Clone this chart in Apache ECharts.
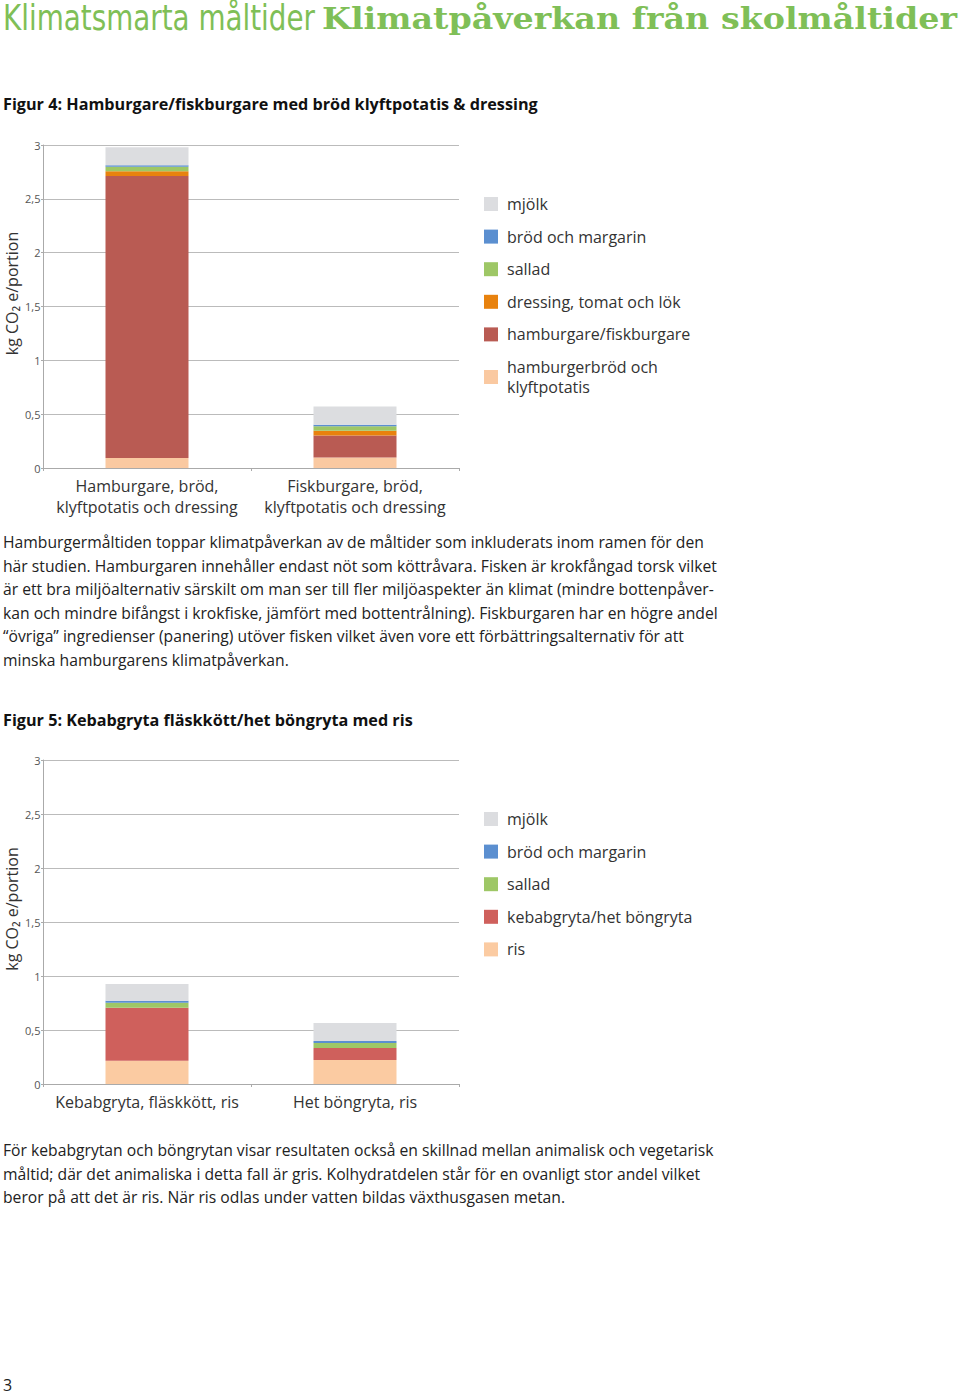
<!DOCTYPE html>
<html>
<head>
<meta charset="utf-8">
<script src="https://cdn.jsdelivr.net/npm/echarts@6/dist/echarts.min.js"></script>
<style>
  html, body { margin: 0; padding: 0; background: #fff; }
  body { width: 960px; height: 1394px; position: relative; overflow: hidden; font-family: "Open Sans", "Noto Sans", sans-serif; color: #222; }
  #chart { position: absolute; left: 0; top: 0; width: 960px; height: 1394px; }
  .t { position: absolute; white-space: nowrap; transform-origin: 0 50%; }
  .title1 { left: 3px; top: 0px; font-family: "Liberation Sans Narrow", "DejaVu Sans Condensed", sans-serif; font-size: 35px; line-height: 36px; color: #7fbf57; }
  .title2 { left: 322px; top: 1px; font-family: "DejaVu Serif", serif; font-weight: bold; font-size: 30px; line-height: 36px; color: #7fbf57; }
  .head { left: 3px; font-weight: bold; font-size: 16.2px; line-height: 20px; color: #111; }
  .para { left: 3px; font-size: 15.7px; line-height: 23.6px; color: #222; }
  .pn { left: 3px; top: 1375px; font-size: 16px; line-height: 20px; color: #222; }
</style>
</head>
<body>
<div id="chart"></div>
<div class="t title1" data-w="312">Klimatsmarta måltider</div>
<div class="t title2" data-w="635">Klimatpåverkan från skolmåltider</div>
<div class="t head" style="top:94px">Figur 4: Hamburgare/fiskburgare med bröd klyftpotatis &amp; dressing</div>
<div class="t para" style="top:531px">Hamburgermåltiden toppar klimatpåverkan av de måltider som inkluderats inom ramen för den<br>här studien. Hamburgaren innehåller endast nöt som köttråvara. Fisken är krokfångad torsk vilket<br>är ett bra miljöalternativ särskilt om man ser till fler miljöaspekter än klimat (mindre bottenpåver-<br>kan och mindre bifångst i krokfiske, jämfört med bottentrålning). Fiskburgaren har en högre andel<br>“övriga” ingredienser (panering) utöver fisken vilket även vore ett förbättringsalternativ för att<br>minska hamburgarens klimatpåverkan.</div>
<div class="t head" style="top:710px">Figur 5: Kebabgryta fläskkött/het böngryta med ris</div>
<div class="t para" style="top:1139px">För kebabgrytan och böngrytan visar resultaten också en skillnad mellan animalisk och vegetarisk<br>måltid; där det animaliska i detta fall är gris. Kolhydratdelen står för en ovanligt stor andel vilket<br>beror på att det är ris. När ris odlas under vatten bildas växthusgasen metan.</div>
<div class="t pn">3</div>
<script>
// ---- Figure 4 data ----
const categories1 = ['Hamburgare, bröd,\nklyftpotatis och dressing', 'Fiskburgare, bröd,\nklyftpotatis och dressing'];
const brodPotatis1 = [0.093, 0.098];
const burgare1 = [2.62, 0.205];
const dressing1 = [0.044, 0.044];
const sallad1 = [0.04, 0.04];
const brodMargarin1 = [0.014, 0.015];
const mjolk1 = [0.167, 0.17];

// ---- Figure 5 data ----
const categories2 = ['Kebabgryta, fläskkött, ris', 'Het böngryta, ris'];
const ris2 = [0.216, 0.222];
const gryta2 = [0.49, 0.111];
const sallad2 = [0.046, 0.046];
const brodMargarin2 = [0.018, 0.018];
const mjolk2 = [0.157, 0.167];

const yTicks = ['0', '0,5', '1', '1,5', '2', '2,5', '3'];

// fit title widths to the reference
document.querySelectorAll('[data-w]').forEach(el => {
  const w = el.getBoundingClientRect().width;
  const target = parseFloat(el.dataset.w);
  el.style.transform = 'scaleX(' + (target / w) + ')';
});

const C = {
  mjolk: '#dcdde0', brod: '#5b8fd0', sallad: '#9ec766', dressing: '#e8820e',
  burgare: '#b95b53', peach1: '#fac9a1', gryta: '#cf605c', ris: '#fbcba2'
};

const chart = echarts.init(document.getElementById('chart'), null, { renderer: 'svg' });

function yAxis(gridIndex) {
  return {
    gridIndex, type: 'value', min: 0, max: 3, interval: 0.5,
    name: 'kg CO₂ e/portion', nameLocation: 'middle', nameRotate: 90, nameGap: 23,
    nameMoveOverlap: false,
    nameTextStyle: { fontSize: 16, color: '#333', fontFamily: 'Open Sans', padding: [0, 0, 0, 26] },
    axisLine: { show: true, lineStyle: { color: '#aaa', width: 1 } },
    axisTick: { show: true, length: 2, lineStyle: { color: '#aaa' } },
    splitLine: { show: true, lineStyle: { color: '#bbb', width: 1 } },
    axisLabel: { fontSize: 11, color: '#555', margin: 2.5, fontFamily: 'Open Sans',
      formatter: (v, i) => yTicks[i] }
  };
}
function xAxis(gridIndex, data) {
  return {
    gridIndex, type: 'category', data,
    axisLine: { show: true, lineStyle: { color: '#aaa', width: 1 } },
    axisTick: { show: true, length: 3, lineStyle: { color: '#aaa' } },
    axisLabel: { fontSize: 16, color: '#333', margin: 7, lineHeight: 21, fontFamily: 'Open Sans', interval: 0 }
  };
}
function bar(name, data, color, idx) {
  return { name, type: 'bar', stack: 's' + idx, xAxisIndex: idx, yAxisIndex: idx,
    data, barWidth: 83, itemStyle: { color }, emphasis: { disabled: true } };
}
const legendStyle = {
  orient: 'vertical', left: 484, itemWidth: 14, itemHeight: 14, itemGap: 12.6, padding: 0,
  icon: 'rect', selectedMode: false,
  textStyle: { fontSize: 16, color: '#333', lineHeight: 20, fontFamily: 'Open Sans', padding: [0, 0, 0, 4] }
};

chart.setOption({
  animation: false,
  grid: [
    { left: 43, top: 145, width: 416, height: 323, outerBoundsMode: 'none', containLabel: false },
    { left: 43, top: 760, width: 416, height: 324, outerBoundsMode: 'none', containLabel: false }
  ],
  xAxis: [xAxis(0, categories1), xAxis(1, categories2)],
  yAxis: [yAxis(0), yAxis(1)],
  legend: [
    Object.assign({}, legendStyle, { top: 194,
      data: ['mjölk', 'bröd och margarin', 'sallad', 'dressing, tomat och lök', 'hamburgare/fiskburgare', 'hamburgerbröd och\nklyftpotatis'] }),
    Object.assign({}, legendStyle, { top: 809,
      data: ['mjölk ', 'bröd och margarin ', 'sallad ', 'kebabgryta/het böngryta', 'ris'] })
  ],
  series: [
    bar('hamburgerbröd och\nklyftpotatis', brodPotatis1, C.peach1, 0),
    bar('hamburgare/fiskburgare', burgare1, C.burgare, 0),
    bar('dressing, tomat och lök', dressing1, C.dressing, 0),
    bar('sallad', sallad1, C.sallad, 0),
    bar('bröd och margarin', brodMargarin1, C.brod, 0),
    bar('mjölk', mjolk1, C.mjolk, 0),
    bar('ris', ris2, C.ris, 1),
    bar('kebabgryta/het böngryta', gryta2, C.gryta, 1),
    bar('sallad ', sallad2, C.sallad, 1),
    bar('bröd och margarin ', brodMargarin2, C.brod, 1),
    bar('mjölk ', mjolk2, C.mjolk, 1)
  ]
});
</script>
</body>
</html>
